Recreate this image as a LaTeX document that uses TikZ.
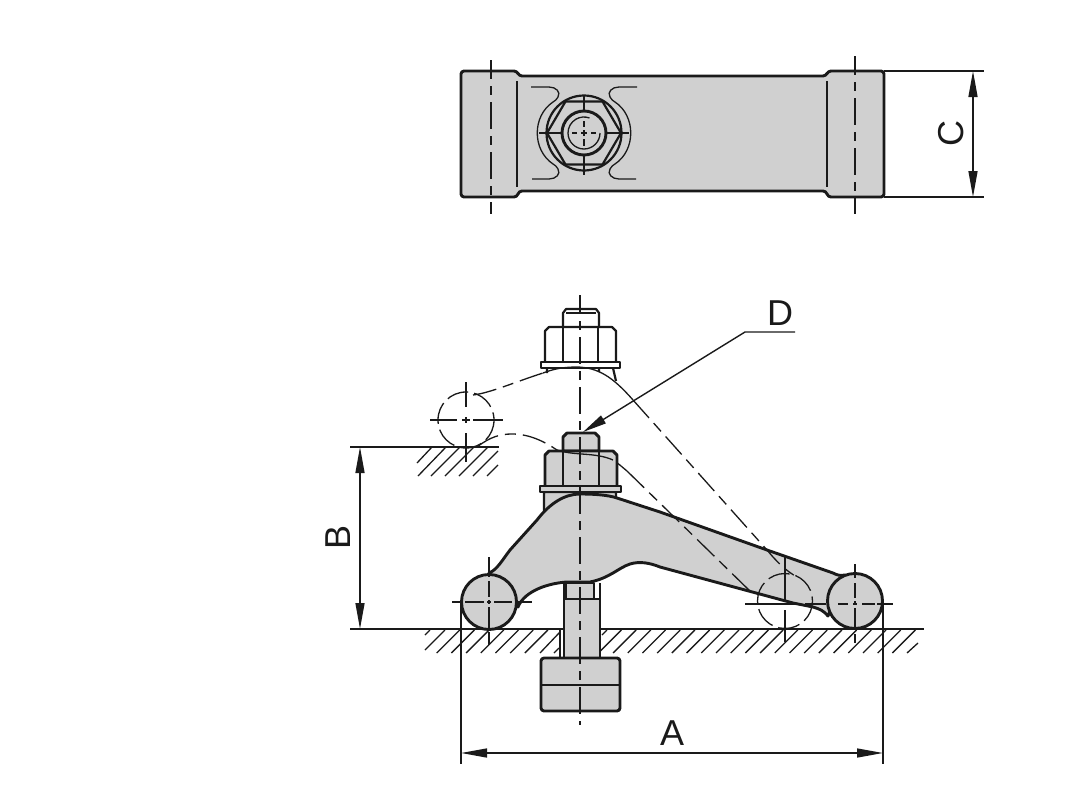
\documentclass[tikz,border=0pt]{standalone}
\usepackage{fontspec}
\setmainfont{Liberation Sans}
\usetikzlibrary{arrows.meta}
\definecolor{ink}{HTML}{1A1A1A}
\definecolor{part}{HTML}{D0D0D0}
\tikzset{
  heavy/.style={draw=ink,line width=2.9pt,line join=round},
  mid/.style={draw=ink,line width=2.2pt,line join=round},
  thin/.style={draw=ink,line width=1.3pt},
  axis/.style={draw=ink,line width=1.3pt,dash pattern=on 27pt off 7pt on 9pt off 7pt,dash phase=8pt},
  ghost/.style={draw=ink,line width=1.3pt,dash pattern=on 24pt off 7pt on 11pt off 7pt},
  ring/.style={draw=ink,line width=1.3pt,dash pattern=on 22pt off 6pt},
  dim/.style={draw=ink,line width=1.4pt,{Triangle[length=26pt,width=9pt]}-{Triangle[length=26pt,width=9pt]}},
  lead/.style={draw=ink,line width=1.4pt,-{Triangle[length=24pt,width=9pt]}},
  lab/.style={font=\fontsize{36}{36}\selectfont,text=ink,inner sep=0pt}
}
\begin{document}
\begin{tikzpicture}[x=1pt,y=-1pt]
\useasboundingbox (0,0) rectangle (1074,795);
% ---- top view
\path[heavy,fill=part,rounded corners=3pt]
  (461,71) -- (517,71) -- (519,76) -- (826,76) -- (828,71) -- (884,71) -- (884,197)
  -- (828,197) -- (826,191) -- (519,191) -- (517,197) -- (461,197) -- cycle;
\draw[thin] (517,81) -- (517,187) (827,81) -- (827,187);
\draw[axis] (491,60) -- (491,214);
\draw[axis] (855,56) -- (855,214);
% slot
\draw[thin] (531,87) -- (549,87) .. controls (556,87) and (561,92) .. (558,97)
  .. controls (556,100) and (555,101) .. (553,102);
\draw[thin] (637,87) -- (619,87) .. controls (612,87) and (607,92) .. (610,97)
  .. controls (612,100) and (613,101) .. (615,102);
\draw[thin] (532,179) -- (549,179) .. controls (556,179) and (561,174) .. (558,169)
  .. controls (556,166) and (555,165) .. (553,164);
\draw[thin] (636,179) -- (619,179) .. controls (612,179) and (607,174) .. (610,169)
  .. controls (612,166) and (613,165) .. (615,164);
\draw[thin] (553,102) .. controls (532,116) and (532,150) .. (553,164);
\draw[thin] (615,102) .. controls (636,116) and (636,150) .. (615,164);
% bolt seen from above
\draw[mid] (584,133) circle[radius=37.5];
\draw[mid] (547,133) -- (565.5,101.5) -- (602.5,101.5) -- (621,133) -- (602.5,164.5) -- (565.5,164.5) -- cycle;
\draw[heavy] (584,133) circle[radius=22];
\draw[thin] (600,133) arc[start angle=0,end angle=290,radius=16];
\draw[thin] (584,95) -- (584,112) (584,154) -- (584,175);
\draw[thin] (539,133) -- (562,133) (606,133) -- (629,133);
\draw[thin] (572,133) -- (577,133) (581,133) -- (587,133) (591,133) -- (596,133);
\draw[thin] (584,121) -- (584,127) (584,130) -- (584,136) (584,139) -- (584,146);
% dimension C
\coordinate (c1) at (884,71); \coordinate (c1e) at (984,71);
\coordinate (c2) at (884,197); \coordinate (c2e) at (984,197);
\coordinate (ca) at (973,71); \coordinate (cb) at (973,197);
\draw[thin] (c1) -- (c1e) (c2) -- (c2e);
\draw[dim] (ca) -- (cb);
\node[lab,rotate=90] (labC) at (951,133) {C};
% ---- ghost position, nut and bolt
\draw[mid] (563,327) -- (563,313) -- (566,309) -- (596,309) -- (599,313) -- (599,327);
\draw[thin] (566,313) -- (596,313);
\draw[mid] (545,362) -- (545,331) -- (549,327) -- (612,327) -- (616,331) -- (616,362);
\draw[mid] (563,327) -- (563,362) (598,327) -- (598,362);
\draw[mid] (541,362) rectangle (620,368);
\draw[mid] (547,368) -- (547,373) (599,368) -- (599,372) (613,368) -- (616,381);
% ghost arm
\draw[ghost] (473,395) .. controls (490,393) and (515,382) .. (543,373);
\draw[thin] (543,373) .. controls (556,368) and (566,367) .. (578,367)
  .. controls (598,368) and (612,376) .. (633,400);
\draw[ghost] (477,447) .. controls (490,437) and (500,434) .. (512,434)
  .. controls (530,434) and (545,442) .. (557,450);
\draw[thin] (613,460) .. controls (618,463) and (622,467) .. (627,471);
\draw[ring] (466,420) circle[radius=28];
\draw[thin] (466,382) -- (466,407) (466,417) -- (466,423) (466,433) -- (466,462);
\draw[thin] (430,420) -- (457,420) (462,420) -- (470,420) (473,420) -- (503,420);
% lower stem behind arm
\path[mid,fill=part] (544,492) -- (544,520) -- (616,500) -- (616,492) -- cycle;
% arm
\path[heavy,fill=part] (489,573) .. controls (497,570) and (503,559) .. (510,550)
  -- (537,520) .. controls (550,503) and (565,494) .. (580,494)
  .. controls (595,494) and (608,495) .. (617,498) -- (660,512) -- (767,550)
  -- (833,573) .. controls (837,575) and (840,576) .. (845,575)
  -- (828,616) .. controls (824,611) and (820,609) .. (813,607) -- (793,603)
  -- (660,567) .. controls (650,563) and (640,561) .. (630,564)
  .. controls (618,568) and (610,578) .. (590,582) -- (567,582)
  .. controls (550,583) and (525,590) .. (518,607)
  -- (505,590) -- cycle;
\path[heavy,fill=part] (489,602) circle[radius=27.5];
\path[heavy,fill=part] (855,601) circle[radius=27.5];
% ghost over the part
\draw[ring] (785,601) circle[radius=27.5];
\draw[thin] (785,557) -- (785,602) (785,610) -- (785,642);
\draw[thin] (745,604) -- (798,604);
\draw[ghost] (633,400) -- (767,550) .. controls (776,561) and (786,571) .. (797,577);
\draw[ghost] (627,471) -- (752,593);
\draw[thin] (489,557) -- (489,577) (489,581) -- (489,597) (489,600) -- (489,604) (489,607) -- (489,628) (489,632) -- (489,645);
\draw[thin] (452,602) -- (460,602) (465,602) -- (484,602) (487,602) -- (491,602) (494,602) -- (512,602) (518,602) -- (532,602);
\draw[thin] (855,564) -- (855,578) (855,583) -- (855,598) (855,601) -- (855,605) (855,608) -- (855,630) (855,634) -- (855,643);
\draw[thin] (805,604) -- (826,604) (838,604) -- (848,604) (853,604) -- (857,604) (862,604) -- (875,604) (877,604) -- (893,604);
% working nut
\path[heavy,fill=part] (563,451) -- (563,437) -- (567,433) -- (595,433) -- (599,437) -- (599,451) -- cycle;
\path[heavy,fill=part] (545,487) -- (545,455) -- (549,451) -- (613,451) -- (617,455) -- (617,487) -- cycle;
\draw[heavy] (563,451) -- (563,487) (599,451) -- (599,487);
\path[heavy,fill=part] (540,486) rectangle (621,492);
\draw[thin] (557,450) .. controls (575,456) and (595,452) .. (613,460);
% ground
\coordinate (g1) at (350,629); \coordinate (g2) at (924,629);
\coordinate (u1) at (350,447); \coordinate (u2) at (499,447);
\draw[thin] (u1) -- (u2);
\draw[thin] (417,463) -- (432,447);
\draw[thin] (418,476) -- (446,447) (431,476) -- (460,447) (445,476) -- (474,447) (459,476) -- (488,447) (473,476) -- (498,451) (487,476) -- (498,465);
\draw[thin] (g1) -- (g2);
\draw[thin] (425,635) -- (430,630);
\draw[thin] (425,650) -- (445,630);
\foreach \k in {1,...,7} \draw[thin] ({445+14.7*\k-23},653) -- ({445+14.7*\k},630);
\draw[thin] (540,653) -- (560,632) (554,653) -- (559,648);
\draw[thin] (602,635) -- (607,630);
\foreach \k in {12,...,32} \draw[thin] ({445+14.7*\k-23},653) -- ({445+14.7*\k},630);
\draw[thin] (907,653) -- (918,643);
\draw[thin] (560,630) -- (560,658);
% bolt
\path[heavy,fill=part] (564,599) rectangle (600,658);
\path[heavy,fill=part] (566,583) rectangle (594,599);
\draw[heavy] (564,583) -- (564,599) (600,583) -- (600,599);
\path[heavy,fill=part,rounded corners=3pt] (541,711) -- (541,658) -- (620,658) -- (620,711) -- cycle;
\draw[mid] (541,685) -- (620,685);
\draw[axis] (580,295) -- (580,725);
% dimension B
\coordinate (ba) at (360,447); \coordinate (bb) at (360,629);
\draw[dim] (ba) -- (bb);
\node[lab,rotate=90] (labB) at (338,537) {B};
% dimension A
\coordinate (a1) at (461,604); \coordinate (a1e) at (461,764);
\coordinate (a2) at (883,601); \coordinate (a2e) at (883,764);
\coordinate (aa) at (461,753); \coordinate (ab) at (883,753);
\draw[thin] (a1) -- (a1e) (a2) -- (a2e);
\draw[dim] (aa) -- (ab);
\node[lab] (labA) at (672,733) {A};
% leader D
\node[lab] (labD) at (780,313) {D};
\coordinate (d0) at (795,332); \coordinate (d1) at (745,332); \coordinate (d2) at (583,432);
\draw[lead] (d0) -- (d1) -- (d2);
\end{tikzpicture}
\end{document}
